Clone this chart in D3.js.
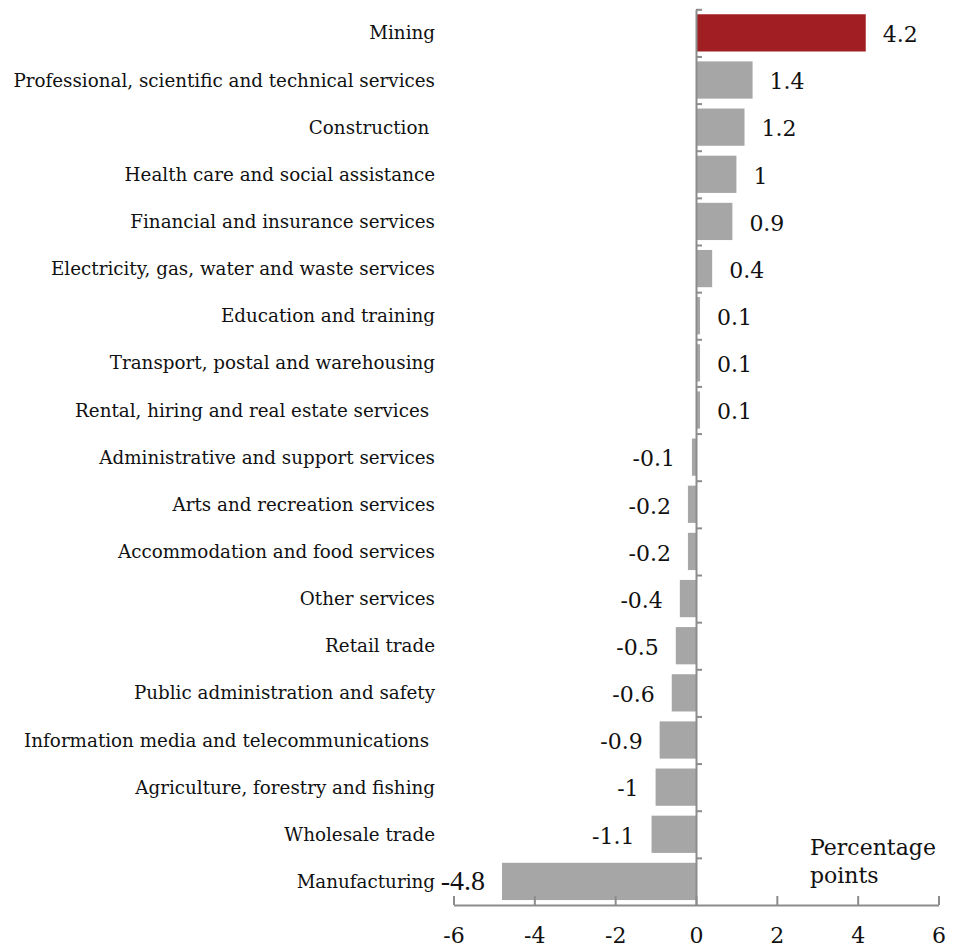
<!DOCTYPE html>
<html>
<head>
<meta charset="utf-8">
<script src="https://cdn.jsdelivr.net/npm/d3@7"></script>
<style>
  html, body { margin: 0; padding: 0; background: #fff; }
  svg { display: block; }
  text { font-family: Georgia, "DejaVu Serif", "Liberation Serif", serif; fill: #111; white-space: pre; }
</style>
</head>
<body>
<svg id="chart" width="955" height="951"></svg>
<script>
// Change in industry share, percentage points
const industries = [
  "Mining",
  "Professional, scientific and technical services",
  "Construction ",
  "Health care and social assistance",
  "Financial and insurance services",
  "Electricity, gas, water and waste services",
  "Education and training",
  "Transport, postal and warehousing",
  "Rental, hiring and real estate services ",
  "Administrative and support services",
  "Arts and recreation services",
  "Accommodation and food services",
  "Other services",
  "Retail trade",
  "Public administration and safety",
  "Information media and telecommunications ",
  "Agriculture, forestry and fishing",
  "Wholesale trade",
  "Manufacturing"
];
const changes = [4.2, 1.4, 1.2, 1, 0.9, 0.4, 0.1, 0.1, 0.1, -0.1, -0.2, -0.2, -0.4, -0.5, -0.6, -0.9, -1, -1.1, -4.8];
const highlighted = ["Mining"];
const xTicks = [-6, -4, -2, 0, 2, 4, 6];
const unitLabel = ["Percentage", "points"];

const rows = industries.map((name, i) => ({ name, value: changes[i] }));

const svg = d3.select("#chart");
const plotLeft = 453.5, plotRight = 938.5, plotTop = 9.3, plotBottom = 905;
const labelRight = 435, labelColumn = 422;

const x = d3.scaleLinear().domain([-6, 6]).range([plotLeft, plotRight]);
const y = d3.scaleBand().domain(industries).range([plotTop, plotBottom])
  .paddingInner(0.21).paddingOuter(0.105);

// bars
svg.append("g").selectAll("rect").data(rows).join("rect")
  .attr("x", d => x(Math.min(0, d.value)))
  .attr("width", d => Math.abs(x(d.value) - x(0)))
  .attr("y", d => y(d.name))
  .attr("height", y.bandwidth())
  .attr("fill", d => highlighted.includes(d.name.trim()) ? "#a11f22" : "#a6a6a6");

// category labels, sized so the longest one fills the label column
const catLabels = svg.append("g").selectAll("text").data(rows).join("text")
  .attr("x", labelRight)
  .attr("y", d => y(d.name) + y.bandwidth() / 2)
  .attr("dy", "0.36em")
  .attr("text-anchor", "end")
  .style("font-size", "18px")
  .text(d => d.name);
const widest = d3.max(catLabels.nodes(), n => n.getComputedTextLength());
catLabels.style("font-size", (18 * labelColumn / widest).toFixed(2) + "px");

// value labels
svg.append("g").selectAll("text").data(rows).join("text")
  .attr("x", d => d.value >= 0 ? x(d.value) + 17 : x(d.value) - 17)
  .attr("y", d => y(d.name) + y.bandwidth() / 2)
  .attr("dy", d => d.value < -4 ? "0.32em" : "0.42em")
  .attr("text-anchor", d => d.value >= 0 ? "start" : "end")
  .style("font-size", d => d.value < -4 ? "28px" : "22px")
  .style("font-family", d => d.value < -4 ? "'Liberation Serif', 'Times New Roman', serif" : null)
  .text(d => String(d.value));

// x axis
const xAxis = d3.axisBottom(x).tickValues(xTicks).tickSizeInner(-9).tickSizeOuter(0).tickPadding(22)
  .tickFormat(d3.format("d"));
const gx = svg.append("g").attr("transform", `translate(0,${plotBottom})`).call(xAxis);
gx.select(".domain").attr("stroke", "#8c8c8c").attr("stroke-width", 2);
gx.selectAll(".tick line").attr("stroke", "#8c8c8c").attr("stroke-width", 2);
gx.selectAll(".tick text").style("font-size", "22px").style("font-family", null).attr("fill", "#111")
  .text(d => d < 0 ? "-" + Math.abs(d) : String(d));

// zero axis with ticks between categories
const yEdge = d3.scaleLinear().domain([0, industries.length]).range([plotTop, plotBottom]);
const yAxis = d3.axisRight(yEdge).tickValues(d3.range(0, industries.length)).tickSizeInner(6)
  .tickSizeOuter(0).tickFormat("");
const gy = svg.append("g").attr("transform", `translate(${x(0)},0)`).call(yAxis);
gy.select(".domain").attr("stroke", "#8c8c8c").attr("stroke-width", 2);
gy.selectAll(".tick line").attr("stroke", "#8c8c8c").attr("stroke-width", 2);

// unit label
svg.append("text")
  .attr("x", 810).attr("y", 855)
  .style("font-size", "22px")
  .selectAll("tspan").data(unitLabel).join("tspan")
  .attr("x", 810).attr("dy", (d, i) => i === 0 ? 0 : 28)
  .text(d => d);
</script>
</body>
</html>
